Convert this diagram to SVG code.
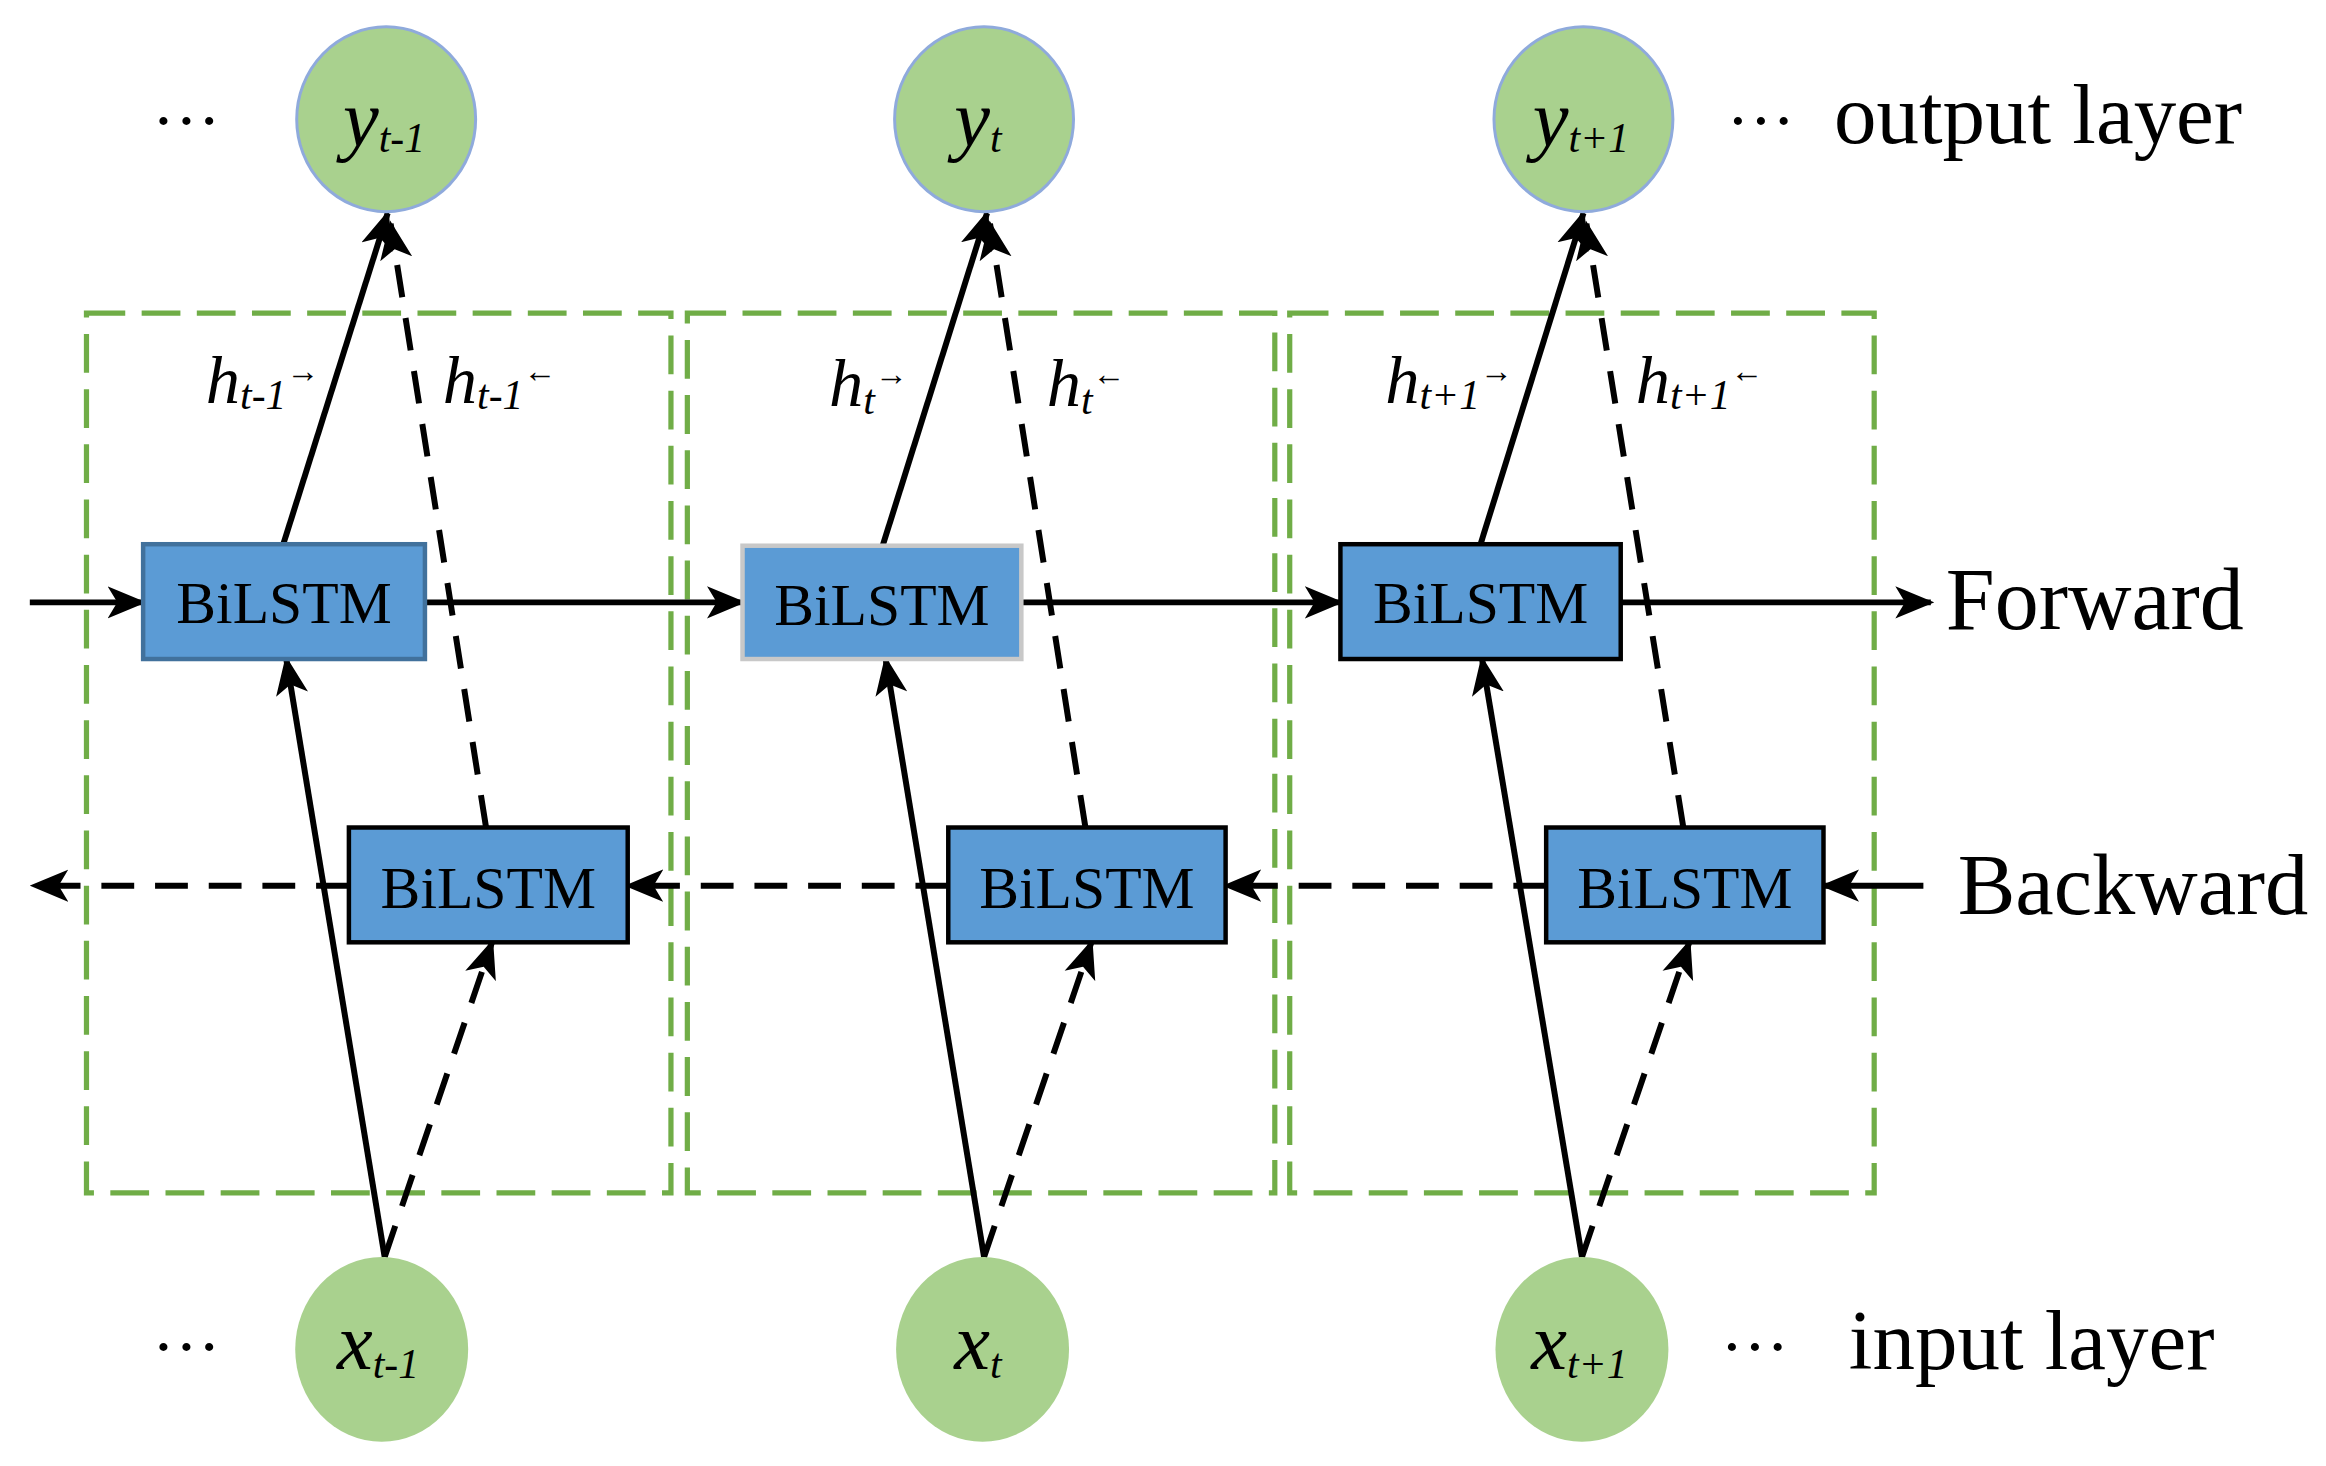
<svg xmlns="http://www.w3.org/2000/svg" width="2326" height="1466" viewBox="0 0 2326 1466">
<style>
.t{font-family:"Liberation Serif",serif;fill:#000}
.i{font-style:italic}
.box{fill:#5B9BD5;stroke:#000;stroke-width:3}
.el{fill:#A9D18E}
.g{fill:none;stroke:#70AD47;stroke-width:3.5;stroke-dasharray:26 11}
.s{stroke:#000;stroke-width:4;fill:none}
.d{stroke:#000;stroke-width:4;fill:none;stroke-dasharray:22 14}
</style>
<defs>
<marker id="b" viewBox="0 0 12 10" refX="11" refY="5" markerWidth="26" markerHeight="22" markerUnits="userSpaceOnUse" orient="auto"><path d="M0,0 L12,5 L0,10 L3,5 Z" fill="#000"/></marker>
</defs>
<g transform="scale(1.491)">
<g id="frames">
<rect class="g" x="58" y="210" width="392" height="590"/>
<rect class="g" x="461" y="210" width="394" height="590"/>
<rect class="g" x="865" y="210" width="392" height="590"/>
</g>
<g id="connectors">
<line class="s" x1="20" y1="404" x2="96" y2="404" marker-end="url(#b)"/>
<line class="s" x1="285" y1="404" x2="498" y2="404" marker-end="url(#b)"/>
<line class="s" x1="685" y1="404" x2="899" y2="404" marker-end="url(#b)"/>
<line class="s" x1="1087" y1="404" x2="1295" y2="404" marker-end="url(#b)"/>
<line class="d" x1="234" y1="594" x2="22" y2="594" marker-end="url(#b)"/>
<line class="d" x1="636" y1="594" x2="421" y2="594" marker-end="url(#b)"/>
<line class="d" x1="1037" y1="594" x2="822" y2="594" marker-end="url(#b)"/>
<line class="s" x1="1290" y1="594" x2="1223" y2="594" marker-end="url(#b)"/>
<line class="s" x1="258" y1="843" x2="192" y2="442" marker-end="url(#b)"/>
<line class="d" x1="258" y1="843" x2="330" y2="632" marker-end="url(#b)"/>
<line class="s" x1="190" y1="365" x2="260" y2="143" marker-end="url(#b)"/>
<line class="d" x1="326" y1="555" x2="262" y2="150" marker-end="url(#b)"/>
<line class="s" x1="660" y1="843" x2="594" y2="442" marker-end="url(#b)"/>
<line class="d" x1="660" y1="843" x2="732" y2="632" marker-end="url(#b)"/>
<line class="s" x1="592" y1="366" x2="662" y2="143" marker-end="url(#b)"/>
<line class="d" x1="728" y1="555" x2="664" y2="150" marker-end="url(#b)"/>
<line class="s" x1="1061" y1="843" x2="994" y2="442" marker-end="url(#b)"/>
<line class="d" x1="1061" y1="843" x2="1133" y2="632" marker-end="url(#b)"/>
<line class="s" x1="993" y1="365" x2="1062" y2="143" marker-end="url(#b)"/>
<line class="d" x1="1129" y1="555" x2="1064" y2="150" marker-end="url(#b)"/>
</g>
<g id="y1"><ellipse class="el" cx="259" cy="80" rx="60" ry="62" stroke="#8FAADC" stroke-width="2"/><text class="t i" x="230" y="98" font-size="54">y<tspan font-size="28" dy="4">t-1</tspan></text></g>
<g id="y2"><ellipse class="el" cx="660" cy="80" rx="60" ry="62" stroke="#8FAADC" stroke-width="2"/><text class="t i" x="640" y="98" font-size="54">y<tspan font-size="28" dy="4">t</tspan></text></g>
<g id="y3"><ellipse class="el" cx="1062" cy="80" rx="60" ry="62" stroke="#8FAADC" stroke-width="2"/><text class="t i" x="1028" y="98" font-size="54">y<tspan font-size="28" dy="4">t+1</tspan></text></g>
<g id="x1"><ellipse class="el" cx="256" cy="905" rx="58" ry="62"/><text class="t i" x="226" y="918" font-size="54">x<tspan font-size="28" dy="6">t-1</tspan></text></g>
<g id="x2"><ellipse class="el" cx="659" cy="905" rx="58" ry="62"/><text class="t i" x="640" y="918" font-size="54">x<tspan font-size="28" dy="6">t</tspan></text></g>
<g id="x3"><ellipse class="el" cx="1061" cy="905" rx="58" ry="62"/><text class="t i" x="1027" y="918" font-size="54">x<tspan font-size="28" dy="6">t+1</tspan></text></g>
<g id="f1"><rect class="box" x="96" y="365" width="189" height="77" style="stroke:#41719C"/><text class="t" x="190.5" y="418" font-size="40" text-anchor="middle">BiLSTM</text></g>
<g id="f2"><rect class="box" x="498" y="366" width="187" height="76" style="stroke:#C8C8C8"/><text class="t" x="591.5" y="419" font-size="40" text-anchor="middle">BiLSTM</text></g>
<g id="f3"><rect class="box" x="899" y="365" width="188" height="77"/><text class="t" x="993" y="418" font-size="40" text-anchor="middle">BiLSTM</text></g>
<g id="b1"><rect class="box" x="234" y="555" width="187" height="77"/><text class="t" x="327.5" y="609" font-size="40" text-anchor="middle">BiLSTM</text></g>
<g id="b2"><rect class="box" x="636" y="555" width="186" height="77"/><text class="t" x="729" y="609" font-size="40" text-anchor="middle">BiLSTM</text></g>
<g id="b3"><rect class="box" x="1037" y="555" width="186" height="77"/><text class="t" x="1130" y="609" font-size="40" text-anchor="middle">BiLSTM</text></g>
<g id="labels">
<text class="t i" x="138" y="270" font-size="46">h<tspan font-size="28" dy="4">t-1</tspan><tspan font-size="22" dy="-18" font-style="normal">→</tspan></text>
<text class="t i" x="297" y="270" font-size="46">h<tspan font-size="28" dy="4">t-1</tspan><tspan font-size="22" dy="-18" font-style="normal">←</tspan></text>
<text class="t i" x="556" y="272" font-size="46">h<tspan font-size="28" dy="6">t</tspan><tspan font-size="22" dy="-20" font-style="normal">→</tspan></text>
<text class="t i" x="702" y="272" font-size="46">h<tspan font-size="28" dy="6">t</tspan><tspan font-size="22" dy="-20" font-style="normal">←</tspan></text>
<text class="t i" x="929" y="270" font-size="46">h<tspan font-size="28" dy="4">t+1</tspan><tspan font-size="22" dy="-18" font-style="normal">→</tspan></text>
<text class="t i" x="1097" y="270" font-size="46">h<tspan font-size="28" dy="4">t+1</tspan><tspan font-size="22" dy="-18" font-style="normal">←</tspan></text>
<text class="t" x="102" y="96" font-size="46">···</text>
<text class="t" x="1158" y="96" font-size="46">···</text>
<text class="t" x="1230" y="96" font-size="57">output layer</text>
<text class="t" x="1305" y="422" font-size="59">Forward</text>
<text class="t" x="1313" y="613" font-size="58">Backward</text>
<text class="t" x="102" y="918" font-size="46">···</text>
<text class="t" x="1154" y="918" font-size="46">···</text>
<text class="t" x="1240" y="918" font-size="57">input layer</text>
</g>
</g>
</svg>
